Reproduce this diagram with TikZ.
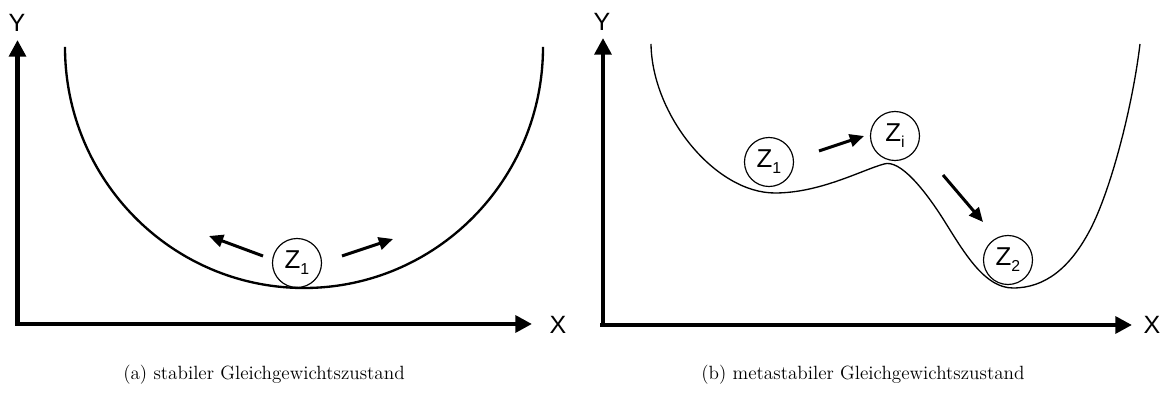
\documentclass[tikz,border=0pt]{standalone}
\usepackage{fontspec}
\newfontfamily\lab{Liberation Sans}
\usetikzlibrary{arrows.meta}
\newcommand{\zsub}[1]{Z\raisebox{-0.45ex}{\fontsize{9.5}{9.5}\selectfont #1}}
\begin{document}
\begin{tikzpicture}[x=0.6pt,y=-0.6pt,
  axis/.style={line width=2.7pt,-{Triangle[length=10pt,width=10pt]}},
  move/.style={line width=1.8pt,-{Triangle[length=8.5pt,width=7.5pt]}},
  state/.style={circle,draw,line width=0.7pt,minimum size=29.4pt,inner sep=0pt,font=\lab\fontsize{15.5}{15.5}\selectfont},
  axlab/.style={font=\lab\fontsize{15}{15}\selectfont},
  capt/.style={font=\fontsize{11.5}{13}\selectfont},
  thick curve/.style={line width=1.4pt},
  thin curve/.style={line width=0.8pt}]
\useasboundingbox (0,0) rectangle (1168,396);
% ---------- left panel ----------
\coordinate (ly) at (17.5,40);
\coordinate (lx) at (532,324);
\draw[axis] (17.5,324) -- (ly);
\draw[axis] (15,324) -- (lx);
\node[axlab] (lY) at (17,23) {Y};
\node[axlab] (lX) at (558,325) {X};
\draw[thick curve] (65,47) arc[start angle=180,end angle=0,x radius=239,y radius=241];
\node[state] (a1) at (297,263) {\zsub{1}};
\coordinate (a1l) at (263,256);
\coordinate (a1lt) at (209,236);
\coordinate (a1r) at (342,256);
\coordinate (a1rt) at (393,239);
\draw[move] (a1l) -- (a1lt);
\draw[move] (a1r) -- (a1rt);
\node[capt] (capa) at (264,375) {(a) stabiler Gleichgewichtszustand};
% ---------- right panel ----------
\coordinate (ry) at (603,38);
\coordinate (rx) at (1132,325);
\draw[axis] (603,325) -- (ry);
\draw[axis] (600,325) -- (rx);
\node[axlab] (rY) at (602,22) {Y};
\node[axlab] (rX) at (1152,325) {X};
\draw[thin curve] (651,44) .. controls (652,115) and (715,193) .. (775,193)
  .. controls (820,193) and (862,170) .. (884,164)
  .. controls (900,159) and (925,190) .. (945,222)
  .. controls (965,254) and (985,288) .. (1013,288)
  .. controls (1045,288) and (1070,268) .. (1090,230)
  .. controls (1110,192) and (1132,110) .. (1140,44);
\node[state] (b1) at (769,162) {\zsub{1}};
\node[state] (bi) at (895,136) {\zsub{i}};
\node[state] (b2) at (1008,260) {\zsub{2}};
\coordinate (b1s) at (819,151);
\coordinate (b1t) at (864,136);
\coordinate (bis) at (943,175);
\coordinate (bit) at (983,222);
\draw[move] (b1s) -- (b1t);
\draw[move] (bis) -- (bit);
\node[capt] (capb) at (863,375) {(b) metastabiler Gleichgewichtszustand};
\end{tikzpicture}
\end{document}
